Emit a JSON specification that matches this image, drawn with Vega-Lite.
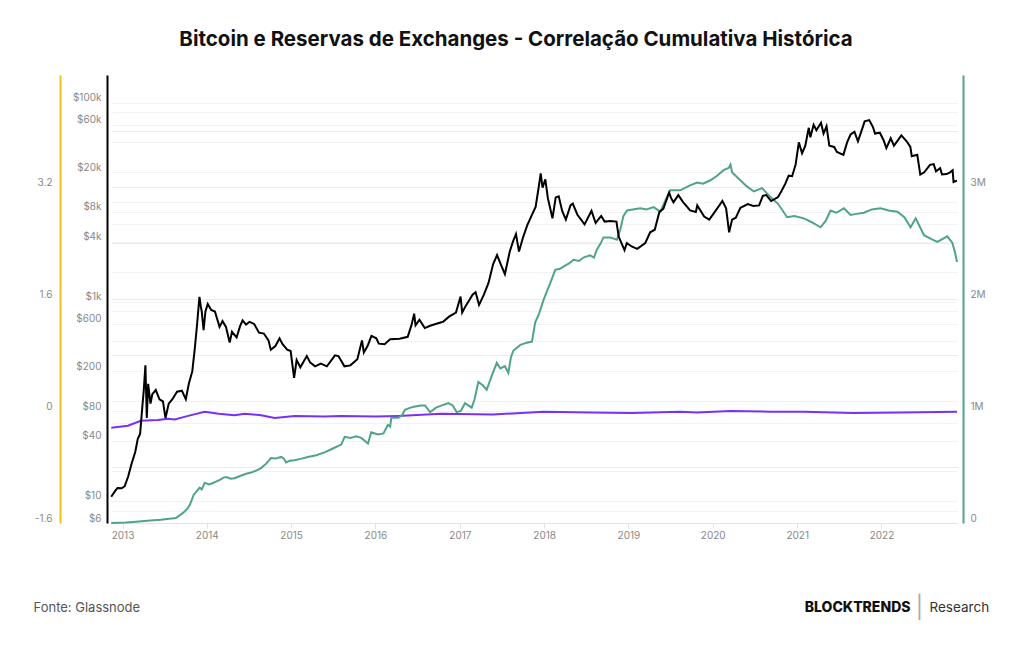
{
  "$schema": "https://vega.github.io/schema/vega-lite/v6.json",
  "width": 846,
  "height": 448,
  "autosize": {"type": "none"},
  "padding": {"left": 111, "top": 75, "right": 67, "bottom": 122},
  "background": "white",
  "config": {"view": {"stroke": null}, "font": "Inter"},
  "title": {
    "text": "Bitcoin e Reservas de Exchanges - Correlação Cumulativa Histórica",
    "font": "Inter",
    "fontSize": 20.5,
    "fontWeight": "bold",
    "color": "#111111",
    "anchor": "middle",
    "dx": -18,
    "offset": 25
  },
  "datasets": {
    "price": [
      {"date": "2012-11-13", "usd": 11}, {"date": "2012-11-28", "usd": 12.4}, {"date": "2012-12-10", "usd": 13.5}, {"date": "2012-12-28", "usd": 13.4},
      {"date": "2013-01-10", "usd": 14}, {"date": "2013-01-25", "usd": 17.5}, {"date": "2013-02-10", "usd": 24}, {"date": "2013-02-25", "usd": 31},
      {"date": "2013-03-08", "usd": 42}, {"date": "2013-03-18", "usd": 47}, {"date": "2013-03-28", "usd": 90}, {"date": "2013-04-03", "usd": 130},
      {"date": "2013-04-10", "usd": 230}, {"date": "2013-04-16", "usd": 68}, {"date": "2013-04-22", "usd": 150}, {"date": "2013-05-02", "usd": 95},
      {"date": "2013-05-10", "usd": 118}, {"date": "2013-05-25", "usd": 130}, {"date": "2013-06-10", "usd": 105}, {"date": "2013-06-25", "usd": 100},
      {"date": "2013-07-06", "usd": 68}, {"date": "2013-07-20", "usd": 95}, {"date": "2013-08-05", "usd": 105}, {"date": "2013-08-25", "usd": 125},
      {"date": "2013-09-15", "usd": 128}, {"date": "2013-10-02", "usd": 105}, {"date": "2013-10-15", "usd": 150}, {"date": "2013-10-30", "usd": 200},
      {"date": "2013-11-10", "usd": 340}, {"date": "2013-11-20", "usd": 600}, {"date": "2013-11-30", "usd": 1120}, {"date": "2013-12-06", "usd": 900},
      {"date": "2013-12-10", "usd": 800}, {"date": "2013-12-18", "usd": 520}, {"date": "2013-12-26", "usd": 800}, {"date": "2014-01-05", "usd": 950},
      {"date": "2014-01-20", "usd": 830}, {"date": "2014-02-05", "usd": 800}, {"date": "2014-02-25", "usd": 560}, {"date": "2014-03-10", "usd": 640},
      {"date": "2014-03-25", "usd": 560}, {"date": "2014-04-10", "usd": 390}, {"date": "2014-04-20", "usd": 500}, {"date": "2014-05-10", "usd": 440},
      {"date": "2014-05-25", "usd": 570}, {"date": "2014-06-05", "usd": 650}, {"date": "2014-06-20", "usd": 590}, {"date": "2014-07-05", "usd": 630},
      {"date": "2014-07-25", "usd": 600}, {"date": "2014-08-15", "usd": 490}, {"date": "2014-09-05", "usd": 480}, {"date": "2014-09-25", "usd": 410},
      {"date": "2014-10-05", "usd": 330}, {"date": "2014-10-25", "usd": 360}, {"date": "2014-11-12", "usd": 430}, {"date": "2014-11-25", "usd": 375},
      {"date": "2014-12-15", "usd": 330}, {"date": "2014-12-30", "usd": 320}, {"date": "2015-01-14", "usd": 172}, {"date": "2015-01-25", "usd": 260},
      {"date": "2015-02-10", "usd": 220}, {"date": "2015-03-10", "usd": 285}, {"date": "2015-03-25", "usd": 245}, {"date": "2015-04-15", "usd": 225},
      {"date": "2015-05-10", "usd": 240}, {"date": "2015-06-05", "usd": 225}, {"date": "2015-07-10", "usd": 290}, {"date": "2015-07-25", "usd": 285},
      {"date": "2015-08-20", "usd": 225}, {"date": "2015-09-15", "usd": 230}, {"date": "2015-10-15", "usd": 265}, {"date": "2015-11-04", "usd": 410},
      {"date": "2015-11-12", "usd": 310}, {"date": "2015-11-28", "usd": 360}, {"date": "2015-12-15", "usd": 455}, {"date": "2016-01-05", "usd": 430},
      {"date": "2016-01-16", "usd": 380}, {"date": "2016-02-10", "usd": 375}, {"date": "2016-03-05", "usd": 420}, {"date": "2016-04-15", "usd": 425},
      {"date": "2016-05-20", "usd": 445}, {"date": "2016-06-05", "usd": 580}, {"date": "2016-06-17", "usd": 760}, {"date": "2016-06-23", "usd": 580},
      {"date": "2016-07-10", "usd": 660}, {"date": "2016-08-02", "usd": 545}, {"date": "2016-08-25", "usd": 575}, {"date": "2016-09-25", "usd": 605},
      {"date": "2016-10-20", "usd": 630}, {"date": "2016-11-15", "usd": 710}, {"date": "2016-12-15", "usd": 780}, {"date": "2017-01-04", "usd": 1130},
      {"date": "2017-01-11", "usd": 780}, {"date": "2017-01-25", "usd": 900}, {"date": "2017-02-25", "usd": 1180}, {"date": "2017-03-10", "usd": 1250},
      {"date": "2017-03-25", "usd": 930}, {"date": "2017-04-15", "usd": 1180}, {"date": "2017-05-05", "usd": 1550}, {"date": "2017-05-25", "usd": 2400},
      {"date": "2017-06-11", "usd": 2950}, {"date": "2017-06-25", "usd": 2450}, {"date": "2017-07-15", "usd": 1900}, {"date": "2017-08-05", "usd": 3200},
      {"date": "2017-08-20", "usd": 4100}, {"date": "2017-09-01", "usd": 4800}, {"date": "2017-09-14", "usd": 3200}, {"date": "2017-10-01", "usd": 4400},
      {"date": "2017-10-20", "usd": 5900}, {"date": "2017-11-08", "usd": 7400}, {"date": "2017-11-25", "usd": 9000}, {"date": "2017-12-10", "usd": 15000},
      {"date": "2017-12-17", "usd": 19500}, {"date": "2017-12-25", "usd": 14000}, {"date": "2018-01-06", "usd": 17000}, {"date": "2018-01-17", "usd": 11000},
      {"date": "2018-02-06", "usd": 6900}, {"date": "2018-02-20", "usd": 11200}, {"date": "2018-03-05", "usd": 11500}, {"date": "2018-03-20", "usd": 8200},
      {"date": "2018-04-05", "usd": 6700}, {"date": "2018-04-25", "usd": 9300}, {"date": "2018-05-05", "usd": 9700}, {"date": "2018-05-25", "usd": 7500},
      {"date": "2018-06-25", "usd": 6000}, {"date": "2018-07-25", "usd": 8200}, {"date": "2018-08-12", "usd": 6200}, {"date": "2018-09-05", "usd": 7300},
      {"date": "2018-09-20", "usd": 6400}, {"date": "2018-10-15", "usd": 6500}, {"date": "2018-11-10", "usd": 6400}, {"date": "2018-11-20", "usd": 4500},
      {"date": "2018-12-15", "usd": 3300}, {"date": "2018-12-25", "usd": 3900}, {"date": "2019-01-15", "usd": 3600}, {"date": "2019-02-08", "usd": 3400},
      {"date": "2019-03-15", "usd": 3900}, {"date": "2019-04-05", "usd": 5000}, {"date": "2019-04-25", "usd": 5300}, {"date": "2019-05-15", "usd": 8000},
      {"date": "2019-06-01", "usd": 8600}, {"date": "2019-06-26", "usd": 12500}, {"date": "2019-07-05", "usd": 11000}, {"date": "2019-07-15", "usd": 10000},
      {"date": "2019-08-05", "usd": 11800}, {"date": "2019-08-25", "usd": 10100}, {"date": "2019-09-25", "usd": 8300}, {"date": "2019-10-20", "usd": 8000},
      {"date": "2019-10-26", "usd": 9300}, {"date": "2019-11-25", "usd": 7200}, {"date": "2019-12-17", "usd": 6700}, {"date": "2020-01-10", "usd": 8000},
      {"date": "2020-02-12", "usd": 10300}, {"date": "2020-02-28", "usd": 8700}, {"date": "2020-03-12", "usd": 5000}, {"date": "2020-03-25", "usd": 6700},
      {"date": "2020-04-10", "usd": 7000}, {"date": "2020-04-30", "usd": 8800}, {"date": "2020-06-01", "usd": 9600}, {"date": "2020-06-25", "usd": 9200},
      {"date": "2020-07-20", "usd": 9300}, {"date": "2020-08-05", "usd": 11600}, {"date": "2020-08-20", "usd": 11800}, {"date": "2020-09-10", "usd": 10300},
      {"date": "2020-10-10", "usd": 11300}, {"date": "2020-10-25", "usd": 13000}, {"date": "2020-11-10", "usd": 15300}, {"date": "2020-11-25", "usd": 18500},
      {"date": "2020-12-10", "usd": 18300}, {"date": "2020-12-25", "usd": 24000}, {"date": "2021-01-08", "usd": 40000}, {"date": "2021-01-22", "usd": 31000},
      {"date": "2021-02-05", "usd": 37000}, {"date": "2021-02-20", "usd": 56000}, {"date": "2021-02-27", "usd": 45000}, {"date": "2021-03-13", "usd": 60000},
      {"date": "2021-03-25", "usd": 53000}, {"date": "2021-04-14", "usd": 63000}, {"date": "2021-04-25", "usd": 49000}, {"date": "2021-05-08", "usd": 58000},
      {"date": "2021-05-20", "usd": 37000}, {"date": "2021-06-10", "usd": 36000}, {"date": "2021-06-22", "usd": 32000}, {"date": "2021-07-20", "usd": 30000},
      {"date": "2021-08-05", "usd": 40000}, {"date": "2021-08-20", "usd": 48000}, {"date": "2021-09-06", "usd": 51000}, {"date": "2021-09-21", "usd": 41000},
      {"date": "2021-10-05", "usd": 51000}, {"date": "2021-10-20", "usd": 65000}, {"date": "2021-11-09", "usd": 67000}, {"date": "2021-11-25", "usd": 57000},
      {"date": "2021-12-04", "usd": 49000}, {"date": "2021-12-25", "usd": 50000}, {"date": "2022-01-10", "usd": 42000}, {"date": "2022-01-22", "usd": 35000},
      {"date": "2022-02-10", "usd": 44000}, {"date": "2022-02-24", "usd": 37000}, {"date": "2022-03-28", "usd": 47000}, {"date": "2022-04-20", "usd": 41000},
      {"date": "2022-05-06", "usd": 36000}, {"date": "2022-05-12", "usd": 29000}, {"date": "2022-06-05", "usd": 30000}, {"date": "2022-06-18", "usd": 19000},
      {"date": "2022-07-05", "usd": 20000}, {"date": "2022-07-30", "usd": 23800}, {"date": "2022-08-15", "usd": 24200}, {"date": "2022-08-25", "usd": 20500},
      {"date": "2022-09-12", "usd": 22000}, {"date": "2022-09-20", "usd": 19000}, {"date": "2022-10-10", "usd": 19200}, {"date": "2022-10-25", "usd": 20000},
      {"date": "2022-11-05", "usd": 21000}, {"date": "2022-11-09", "usd": 16000}, {"date": "2022-11-24", "usd": 16500}
    ],
    "reserves": [
      {"date": "2012-11-13", "btc": 0}, {"date": "2013-01-15", "btc": 5000}, {"date": "2013-03-01", "btc": 12000}, {"date": "2013-05-01", "btc": 22000},
      {"date": "2013-06-15", "btc": 30000}, {"date": "2013-08-20", "btc": 45000}, {"date": "2013-09-20", "btc": 90000}, {"date": "2013-10-10", "btc": 130000},
      {"date": "2013-10-20", "btc": 165000}, {"date": "2013-11-05", "btc": 250000}, {"date": "2013-11-20", "btc": 290000}, {"date": "2013-12-01", "btc": 315000},
      {"date": "2013-12-10", "btc": 300000}, {"date": "2013-12-23", "btc": 360000}, {"date": "2014-01-10", "btc": 345000}, {"date": "2014-01-25", "btc": 355000},
      {"date": "2014-02-10", "btc": 370000}, {"date": "2014-02-26", "btc": 385000}, {"date": "2014-03-15", "btc": 405000}, {"date": "2014-03-26", "btc": 410000},
      {"date": "2014-04-15", "btc": 395000}, {"date": "2014-05-01", "btc": 400000}, {"date": "2014-05-25", "btc": 420000}, {"date": "2014-06-20", "btc": 440000},
      {"date": "2014-07-12", "btc": 450000}, {"date": "2014-08-05", "btc": 470000}, {"date": "2014-08-24", "btc": 490000}, {"date": "2014-09-15", "btc": 530000},
      {"date": "2014-10-06", "btc": 580000}, {"date": "2014-10-25", "btc": 575000}, {"date": "2014-11-19", "btc": 590000}, {"date": "2014-12-01", "btc": 575000},
      {"date": "2014-12-10", "btc": 540000}, {"date": "2014-12-25", "btc": 555000}, {"date": "2015-01-16", "btc": 560000}, {"date": "2015-02-15", "btc": 575000},
      {"date": "2015-03-15", "btc": 590000}, {"date": "2015-04-20", "btc": 605000}, {"date": "2015-05-26", "btc": 630000}, {"date": "2015-07-01", "btc": 665000},
      {"date": "2015-08-06", "btc": 700000}, {"date": "2015-08-21", "btc": 770000}, {"date": "2015-09-15", "btc": 760000}, {"date": "2015-10-10", "btc": 775000},
      {"date": "2015-11-01", "btc": 760000}, {"date": "2015-11-30", "btc": 710000}, {"date": "2015-12-14", "btc": 810000}, {"date": "2016-01-12", "btc": 790000},
      {"date": "2016-02-05", "btc": 800000}, {"date": "2016-02-24", "btc": 875000}, {"date": "2016-03-05", "btc": 860000}, {"date": "2016-03-10", "btc": 940000},
      {"date": "2016-04-09", "btc": 940000}, {"date": "2016-04-25", "btc": 960000}, {"date": "2016-05-08", "btc": 1010000}, {"date": "2016-06-01", "btc": 1030000},
      {"date": "2016-06-21", "btc": 1040000}, {"date": "2016-07-15", "btc": 1050000}, {"date": "2016-08-03", "btc": 1050000}, {"date": "2016-08-25", "btc": 990000},
      {"date": "2016-09-20", "btc": 1030000}, {"date": "2016-10-15", "btc": 1050000}, {"date": "2016-11-12", "btc": 1070000}, {"date": "2016-12-01", "btc": 1050000},
      {"date": "2016-12-18", "btc": 990000}, {"date": "2017-01-05", "btc": 1000000}, {"date": "2017-01-23", "btc": 1070000}, {"date": "2017-02-21", "btc": 1030000},
      {"date": "2017-03-05", "btc": 1100000}, {"date": "2017-03-22", "btc": 1260000}, {"date": "2017-04-10", "btc": 1230000}, {"date": "2017-04-27", "btc": 1190000},
      {"date": "2017-05-20", "btc": 1320000}, {"date": "2017-06-10", "btc": 1430000}, {"date": "2017-06-25", "btc": 1380000}, {"date": "2017-07-15", "btc": 1400000},
      {"date": "2017-07-30", "btc": 1340000}, {"date": "2017-08-10", "btc": 1480000}, {"date": "2017-08-21", "btc": 1540000}, {"date": "2017-09-20", "btc": 1590000},
      {"date": "2017-10-18", "btc": 1610000}, {"date": "2017-11-09", "btc": 1620000}, {"date": "2017-11-23", "btc": 1790000}, {"date": "2017-12-10", "btc": 1870000},
      {"date": "2017-12-29", "btc": 1990000}, {"date": "2018-01-15", "btc": 2080000}, {"date": "2018-01-27", "btc": 2140000}, {"date": "2018-02-18", "btc": 2260000},
      {"date": "2018-03-10", "btc": 2270000}, {"date": "2018-03-26", "btc": 2290000}, {"date": "2018-04-20", "btc": 2320000}, {"date": "2018-05-08", "btc": 2350000},
      {"date": "2018-06-01", "btc": 2340000}, {"date": "2018-06-20", "btc": 2370000}, {"date": "2018-07-19", "btc": 2390000}, {"date": "2018-08-05", "btc": 2370000},
      {"date": "2018-08-17", "btc": 2440000}, {"date": "2018-09-01", "btc": 2490000}, {"date": "2018-09-15", "btc": 2550000}, {"date": "2018-10-14", "btc": 2550000},
      {"date": "2018-11-12", "btc": 2530000}, {"date": "2018-11-27", "btc": 2620000}, {"date": "2018-12-10", "btc": 2740000}, {"date": "2018-12-26", "btc": 2790000},
      {"date": "2019-01-20", "btc": 2800000}, {"date": "2019-02-21", "btc": 2810000}, {"date": "2019-03-20", "btc": 2800000}, {"date": "2019-04-20", "btc": 2820000},
      {"date": "2019-05-19", "btc": 2780000}, {"date": "2019-06-10", "btc": 2880000}, {"date": "2019-07-01", "btc": 2970000}, {"date": "2019-08-14", "btc": 2970000},
      {"date": "2019-09-20", "btc": 3010000}, {"date": "2019-10-25", "btc": 3040000}, {"date": "2019-11-20", "btc": 3030000}, {"date": "2019-12-22", "btc": 3060000},
      {"date": "2020-01-20", "btc": 3100000}, {"date": "2020-02-17", "btc": 3150000}, {"date": "2020-03-10", "btc": 3170000}, {"date": "2020-03-18", "btc": 3200000},
      {"date": "2020-03-25", "btc": 3130000}, {"date": "2020-04-30", "btc": 3060000}, {"date": "2020-05-25", "btc": 3010000}, {"date": "2020-06-27", "btc": 2960000},
      {"date": "2020-08-02", "btc": 2990000}, {"date": "2020-09-07", "btc": 2910000}, {"date": "2020-10-10", "btc": 2850000}, {"date": "2020-11-18", "btc": 2730000},
      {"date": "2020-12-20", "btc": 2740000}, {"date": "2021-01-29", "btc": 2720000}, {"date": "2021-03-01", "btc": 2690000}, {"date": "2021-04-12", "btc": 2640000},
      {"date": "2021-05-05", "btc": 2700000}, {"date": "2021-05-25", "btc": 2790000}, {"date": "2021-06-20", "btc": 2770000}, {"date": "2021-07-22", "btc": 2810000},
      {"date": "2021-08-20", "btc": 2750000}, {"date": "2021-09-15", "btc": 2760000}, {"date": "2021-10-17", "btc": 2770000}, {"date": "2021-11-20", "btc": 2800000},
      {"date": "2021-12-28", "btc": 2810000}, {"date": "2022-02-01", "btc": 2790000}, {"date": "2022-03-11", "btc": 2780000}, {"date": "2022-04-10", "btc": 2730000},
      {"date": "2022-05-07", "btc": 2640000}, {"date": "2022-05-29", "btc": 2720000}, {"date": "2022-06-15", "btc": 2650000}, {"date": "2022-07-04", "btc": 2570000},
      {"date": "2022-08-10", "btc": 2530000}, {"date": "2022-08-31", "btc": 2510000}, {"date": "2022-10-13", "btc": 2560000}, {"date": "2022-11-04", "btc": 2500000},
      {"date": "2022-11-15", "btc": 2420000}, {"date": "2022-11-24", "btc": 2330000}
    ],
    "correlation": [
      {"date": "2012-11-13", "corr": -0.24}, {"date": "2013-01-24", "corr": -0.21}, {"date": "2013-03-21", "corr": -0.14}, {"date": "2013-06-03", "corr": -0.13},
      {"date": "2013-07-17", "corr": -0.11}, {"date": "2013-08-15", "corr": -0.12}, {"date": "2013-10-12", "corr": -0.07}, {"date": "2013-12-23", "corr": -0.01},
      {"date": "2014-02-21", "corr": -0.04}, {"date": "2014-05-01", "corr": -0.06}, {"date": "2014-06-14", "corr": -0.04}, {"date": "2014-08-24", "corr": -0.06},
      {"date": "2014-10-22", "corr": -0.10}, {"date": "2015-01-16", "corr": -0.07}, {"date": "2015-05-23", "corr": -0.08}, {"date": "2015-08-06", "corr": -0.07},
      {"date": "2016-01-03", "corr": -0.08}, {"date": "2016-04-09", "corr": -0.07}, {"date": "2016-10-11", "corr": -0.04}, {"date": "2017-05-23", "corr": -0.05},
      {"date": "2017-12-29", "corr": -0.01}, {"date": "2018-07-19", "corr": -0.02}, {"date": "2019-01-15", "corr": -0.03}, {"date": "2019-08-14", "corr": -0.01},
      {"date": "2019-10-25", "corr": -0.02}, {"date": "2020-03-18", "corr": 0.0}, {"date": "2020-09-07", "corr": -0.01}, {"date": "2021-01-29", "corr": -0.01},
      {"date": "2021-08-31", "corr": -0.03}, {"date": "2022-03-27", "corr": -0.02}, {"date": "2022-11-24", "corr": -0.01}
    ]
  },
  "encoding": {
    "x": {
      "field": "date",
      "type": "temporal",
      "scale": {"domain": [{"year": 2012, "month": 11, "date": 12}, {"year": 2022, "month": 11, "date": 24}]},
      "axis": {
        "format": "%Y",
        "tickCount": {"interval": "year", "step": 1},
        "grid": false,
        "domainColor": "#e4e4e4",
        "tickColor": "#e4e4e4",
        "tickSize": 5,
        "labelColor": "#888888",
        "labelFontSize": 10,
        "labelPadding": 2,
        "title": "Fonte: Glassnode",
        "titleX": -78,
        "titleY": 84,
        "titleAlign": "left",
        "titleBaseline": "middle",
        "titleFontSize": 13,
        "titleFontWeight": "normal",
        "titleColor": "#555555"
      }
    }
  },
  "layer": [
    {
      "data": {"name": "correlation"},
      "mark": {"type": "line", "color": "#7b2ff6", "strokeWidth": 2},
      "encoding": {
        "y": {
          "field": "corr",
          "type": "quantitative",
          "scale": {"domain": [-1.6, 4.8], "nice": false, "zero": false},
          "axis": {
            "orient": "left",
            "offset": 51,
            "values": [-1.6, 0, 1.6, 3.2],
            "labelExpr": "datum.value == 0 ? '0' : (datum.value < 0 ? '-' : '') + format(abs(datum.value), '.1f')",
            "grid": false,
            "ticks": false,
            "domainColor": "#f6be1a",
            "domainWidth": 2,
            "labelColor": "#888888",
            "labelFontSize": 10,
            "labelPadding": 8,
            "labelBaseline": "bottom",
            "title": "|",
            "titleAngle": 0,
            "titleX": 859,
            "titleY": 532,
            "titleAlign": "center",
            "titleBaseline": "middle",
            "titleFontSize": 22,
            "titleFontWeight": "normal",
            "titleColor": "#aaaaaa"
          }
        }
      }
    },
    {
      "data": {"name": "reserves"},
      "mark": {"type": "line", "color": "#4fa487", "strokeWidth": 2},
      "encoding": {
        "y": {
          "field": "btc",
          "type": "quantitative",
          "scale": {"domain": [0, 4000000], "nice": false},
          "axis": {
            "orient": "right",
            "offset": 6,
            "values": [0, 500000, 1000000, 1500000, 2000000, 2500000, 3000000, 3500000],
            "labelExpr": "datum.value == 0 ? '0' : (datum.value % 1000000 == 0 ? (datum.value / 1000000) + 'M' : '')",
            "grid": true,
            "gridColor": "#ebebeb",
            "ticks": false,
            "domainColor": "#4fa487",
            "domainWidth": 2,
            "labelColor": "#888888",
            "labelFontSize": 10,
            "labelPadding": 7,
            "labelBaseline": "bottom",
            "title": "BLOCKTRENDS",
            "titleAngle": 0,
            "titleX": -53,
            "titleY": 532,
            "titleAlign": "right",
            "titleBaseline": "middle",
            "titleFontSize": 14,
            "titleFontWeight": 800,
            "titleColor": "#111111"
          }
        }
      }
    },
    {
      "data": {"name": "price"},
      "mark": {"type": "line", "color": "#000000", "strokeWidth": 2},
      "encoding": {
        "y": {
          "field": "usd",
          "type": "quantitative",
          "scale": {"type": "log", "domain": [6, 190000], "nice": false},
          "axis": {
            "orient": "left",
            "offset": 4,
            "values": [6, 8, 10, 20, 40, 60, 80, 100, 200, 400, 600, 800, 1000, 2000, 4000, 6000, 8000, 10000, 20000, 40000, 60000, 80000, 100000],
            "labelExpr": "indexof([6, 10, 40, 80, 200, 600, 1000, 4000, 8000, 20000, 60000, 100000], datum.value) < 0 ? '' : (datum.value >= 1000 ? '$' + (datum.value / 1000) + 'k' : '$' + datum.value)",
            "grid": true,
            "gridColor": "#f2f2f2",
            "ticks": false,
            "domainColor": "#000000",
            "domainWidth": 2,
            "labelColor": "#888888",
            "labelFontSize": 10,
            "labelPadding": 6,
            "labelBaseline": "bottom",
            "title": "Research",
            "titleAngle": 0,
            "titleX": 822,
            "titleY": 532,
            "titleAlign": "left",
            "titleBaseline": "middle",
            "titleFontSize": 13.5,
            "titleFontWeight": "normal",
            "titleColor": "#333333"
          }
        }
      }
    }
  ],
  "resolve": {"scale": {"y": "independent"}, "axis": {"y": "independent"}}
}
